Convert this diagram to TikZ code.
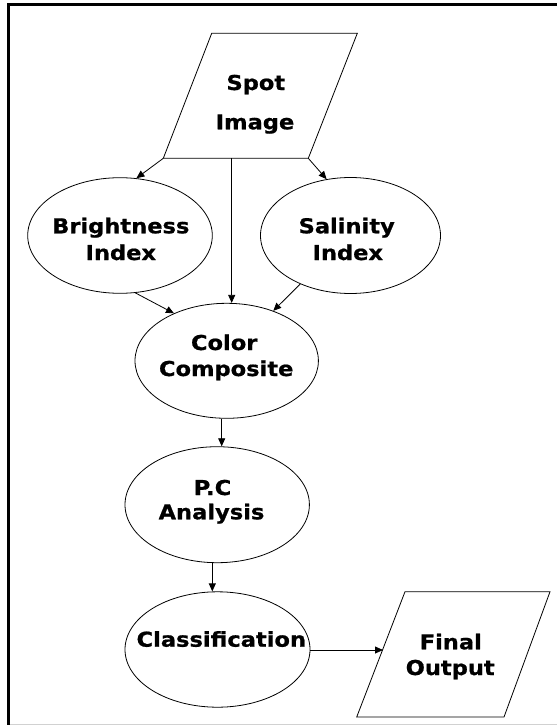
\documentclass[tikz,border=0pt]{standalone}
\usepackage{fontspec}
\newfontfamily\lblfont[FakeStretch=1.1,FakeBold=0.8]{DejaVu Sans Bold}
\usetikzlibrary{arrows.meta,shapes.geometric}
\tikzset{
  ellbox/.style={ellipse,draw,line width=0.8pt,inner sep=0pt},
  parabox/.style={draw,line width=0.8pt,line join=miter},
  txt/.style={anchor=base,inner sep=0pt,font=\lblfont\fontsize{20.5}{24}\selectfont},
  arr/.style={draw,line width=0.8pt,-{Triangle[length=8pt,width=7pt]}},
}
\begin{document}
\begin{tikzpicture}[x=1pt,y=-1pt]
\useasboundingbox (0,0) rectangle (557,725);
% frame
\draw[line width=3pt] (8.5,725) -- (8.5,4.5) -- (557,4.5);
\draw[line width=1pt,color=black!18] (10,724.5) -- (557,724.5);

% Spot Image parallelogram
\coordinate (sitl) at (211.7,33.3);
\coordinate (sitr) at (357.3,33.3);
\coordinate (sibr) at (308.3,158.3);
\coordinate (sibl) at (163.3,158.3);
\coordinate (sv) at (231.7,158.3);
\draw[parabox] (sitl) -- (sitr) -- (sibr) -- (sibl) -- cycle;
\node[txt] (t1) at (255.8,90) {Spot};
\node[txt] (t2) at (255,129.3) {Image};

% ellipses
\node[ellbox,minimum width=184.6pt,minimum height=115.6pt] (bi) at (120,235.5) {};
\node[ellbox,minimum width=180pt,minimum height=116pt] (sa) at (350.5,235.5) {};
\node[ellbox,minimum width=183.4pt,minimum height=115pt] (cc) at (226.7,360.8) {};
\node[ellbox,minimum width=184.4pt,minimum height=116pt] (pc) at (217.2,504.7) {};
\node[ellbox,minimum width=185pt,minimum height=115.4pt] (cl) at (217.5,649.5) {};

\node[txt] (t3) at (120.8,233.3) {Brightness};
\node[txt] (t4) at (120.8,260) {Index};
\node[txt] (t5) at (346.7,233.3) {Salinity};
\node[txt] (t6) at (347.8,260) {Index};
\node[txt] (t7) at (224.2,350) {Color};
\node[txt] (t8) at (226.2,376) {Composite};
\node[txt] (t9) at (212.5,495) {P.C};
\node[txt] (t10) at (211.5,519.3) {Analysis};
\node[txt] (t11) at (221.3,646.7) {Classification};

% Final Output parallelogram
\coordinate (fotl) at (405,591.7);
\coordinate (fotr) at (550,591.7);
\coordinate (fobr) at (504,717);
\coordinate (fobl) at (356.7,717);
\draw[parabox] (fotl) -- (fotr) -- (fobr) -- (fobl) -- cycle;
\node[txt] (t12) at (450.8,649.3) {Final};
\node[txt] (t13) at (450.2,675) {Output};

% connectors
\draw[arr] (sibl) -- (bi.74);
\draw[arr] (sibr) -- (sa.113);
\draw[arr] (sv) -- (sv |- cc.north);
\draw[arr] (bi.-75) -- (cc.138);
\draw[arr] (sa.224) -- (cc.47);
\coordinate (c1) at (221.7,0);
\draw[arr] (c1 |- cc.south) -- (c1 |- pc.north);
\coordinate (c2) at (212.3,0);
\draw[arr] (c2 |- pc.south) -- (c2 |- cl.north);
\coordinate (c3) at (383,650);
\draw[arr] (cl.east |- c3) -- (c3);
\end{tikzpicture}
\end{document}
